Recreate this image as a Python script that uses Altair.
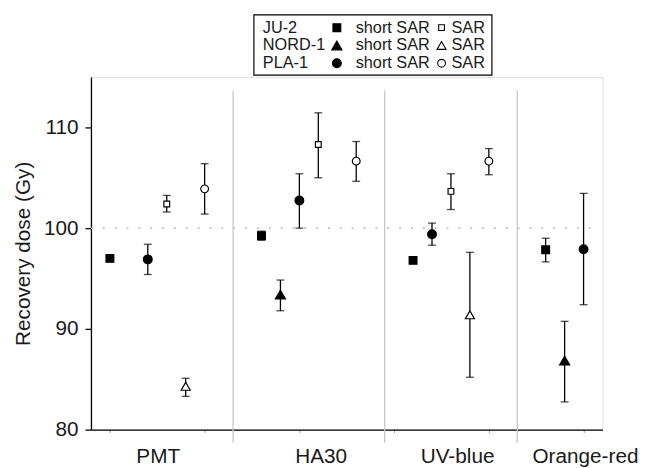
import altair as alt
import pandas as pd

# ---------------- data ----------------
groups = ["PMT", "HA30", "UV-blue", "Orange-red"]
group_label_x = [1.51, 3.23, 4.67, 6.02]
separators_x = [2.3, 3.9, 5.3]

samples = ["JU-2", "NORD-1", "PLA-1"]
protocols = ["short SAR", "SAR"]

pt_sample = ["JU-2", "PLA-1", "JU-2", "NORD-1", "PLA-1",
             "JU-2", "NORD-1", "PLA-1", "JU-2", "PLA-1",
             "JU-2", "PLA-1", "JU-2", "NORD-1", "PLA-1",
             "JU-2", "NORD-1", "PLA-1"]
pt_protocol = ["short SAR", "short SAR", "SAR", "SAR", "SAR",
               "short SAR", "short SAR", "short SAR", "SAR", "SAR",
               "short SAR", "short SAR", "SAR", "SAR", "SAR",
               "short SAR", "short SAR", "short SAR"]
pt_x = [1.0, 1.4, 1.6, 1.8, 2.0,
        2.6, 2.8, 3.0, 3.2, 3.6,
        4.2, 4.4, 4.6, 4.8, 5.0,
        5.6, 5.8, 6.0]
dose = [97.0, 96.9, 102.4, 84.3, 103.9,
        99.25, 93.4, 102.75, 108.3, 106.65,
        96.8, 99.4, 103.65, 91.4, 106.65,
        97.85, 86.85, 97.9]
dose_lo = [96.85, 95.4, 101.6, 83.3, 101.4,
           98.8, 91.8, 100.0, 105.0, 104.65,
           96.65, 98.3, 101.85, 85.2, 105.3,
           96.65, 82.75, 92.4]
dose_hi = [97.15, 98.4, 103.25, 85.1, 106.4,
           99.7, 94.85, 105.4, 111.45, 108.6,
           96.95, 100.5, 105.4, 97.6, 107.9,
           99.0, 90.75, 103.45]

y_ticks = [80, 90, 100, 110]
reference_dose = 100

# ---------------- tables ----------------
df = pd.DataFrame({
    "x": pt_x, "dose": dose, "lo": dose_lo, "hi": dose_hi,
    "sample": pt_sample, "protocol": pt_protocol,
})
df["key"] = df["sample"] + "|" + df["protocol"]

FONT = "Liberation Sans"
W, H = 518, 357
x_scale = alt.Scale(domain=[0.8, 6.2], nice=False, zero=False)
y_scale = alt.Scale(domain=[80, 115], nice=False, zero=False)

shape_scale = alt.Scale(domain=samples, range=["square", "triangle-up", "circle"])
fill_scale = alt.Scale(domain=protocols, range=["black", "white"])
keys = [s + "|" + p for s in samples for p in protocols]
size_scale = alt.Scale(type="ordinal", domain=keys, range=[62, 34, 105, 85, 78, 62])

base = alt.Chart(df)

x_enc = alt.X("x:Q", scale=x_scale,
              axis=alt.Axis(values=[1, 2, 3, 4, 5, 6], labels=False, title=None,
                            tickSize=3, tickColor="#999999", tickWidth=1,
                            domainColor="black", domainWidth=1.3, grid=False))
y_axis = alt.Axis(values=y_ticks, title="Recovery dose (Gy)", grid=False,
                  labelFont=FONT, labelFontSize=21, labelColor="#1a1a1a",
                  labelPadding=7, tickSize=6, tickColor="black", tickWidth=1.3,
                  domainColor="black", domainWidth=1.3,
                  titleFont=FONT, titleFontSize=21, titleFontWeight="normal",
                  titleColor="#1a1a1a", titlePadding=10)

# separators between groups
sep_df = pd.DataFrame({"x": separators_x})
seps = alt.Chart(sep_df).mark_rule(color="#c8c8c8", strokeWidth=1.3).encode(
    x=alt.X("x:Q", scale=x_scale),
    y=alt.datum(113.7, scale=y_scale),
    y2=alt.datum(78.7),
)

# reference dotted line
ref = alt.Chart(pd.DataFrame({"v": [reference_dose]})).mark_rule(
    color="#bbbbbb", strokeWidth=1.5, strokeDash=[2, 10]
).encode(
    y=alt.Y("v:Q", scale=y_scale, axis=y_axis),
    x=alt.datum(0.8, scale=x_scale),
    x2=alt.datum(6.1),
)

err = base.mark_rule(color="black", strokeWidth=1.3).encode(
    x=x_enc,
    y=alt.Y("lo:Q", scale=y_scale, axis=y_axis),
    y2="hi:Q",
)
cap_lo = base.mark_tick(orient="horizontal", size=8, thickness=1.3, color="black").encode(
    x=alt.X("x:Q", scale=x_scale), y=alt.Y("lo:Q", scale=y_scale))
cap_hi = base.mark_tick(orient="horizontal", size=8, thickness=1.3, color="black").encode(
    x=alt.X("x:Q", scale=x_scale), y=alt.Y("hi:Q", scale=y_scale))

pts = base.mark_point(stroke="black", strokeWidth=1.2, opacity=1, filled=False).encode(
    x=alt.X("x:Q", scale=x_scale),
    y=alt.Y("dose:Q", scale=y_scale),
    shape=alt.Shape("sample:N", scale=shape_scale, legend=None),
    fill=alt.Fill("protocol:N", scale=fill_scale, legend=None),
    size=alt.Size("key:N", scale=size_scale, legend=None),
)

# group labels under the axis
lab_df = pd.DataFrame({"x": group_label_x, "label": groups})
labels = alt.Chart(lab_df).mark_text(
    font=FONT, fontSize=21, color="#1a1a1a", align="center", baseline="alphabetic", dy=34
).encode(
    x=alt.X("x:Q", scale=x_scale),
    y=alt.datum(80, scale=y_scale),
    text="label:N",
)

# ---------------- legend (drawn by hand) ----------------
leg_rows = []
for i, s in enumerate(samples):
    leg_rows.append({"sample": s, "ly": -50 + 18 * i})
leg = pd.DataFrame(leg_rows)
leg["key_short"] = leg["sample"] + "|short SAR"
leg["key_sar"] = leg["sample"] + "|SAR"
leg["short"] = "short SAR"
leg["sar"] = "SAR"

box = alt.Chart(pd.DataFrame({"a": [0]})).mark_rect(
    fill="white", stroke="black", strokeWidth=1.2
).encode(x=alt.value(165), x2=alt.value(406), y=alt.value(-63), y2=alt.value(-2))

ly = alt.Y("ly:Q", scale=None)
text_kw = dict(font=FONT, fontSize=16.5, color="#1a1a1a", align="left", baseline="middle")
leg_name = alt.Chart(leg).mark_text(**text_kw).encode(x=alt.value(174), y=ly, text="sample:N")
leg_short = alt.Chart(leg).mark_text(**text_kw).encode(x=alt.value(268), y=ly, text="short:N")
leg_sar = alt.Chart(leg).mark_text(**text_kw).encode(x=alt.value(365), y=ly, text="sar:N")
leg_sym1 = alt.Chart(leg).mark_point(stroke="black", strokeWidth=1.2, opacity=1,
                                     fill="black", filled=False).encode(
    x=alt.value(249), y=ly,
    shape=alt.Shape("sample:N", scale=shape_scale, legend=None),
    size=alt.Size("key_short:N", scale=size_scale, legend=None),
)
leg_sym2 = alt.Chart(leg).mark_point(stroke="black", strokeWidth=1.1, opacity=1,
                                     fill="white", filled=False).encode(
    x=alt.value(355), y=ly,
    shape=alt.Shape("sample:N", scale=shape_scale, legend=None),
    size=alt.Size("key_sar:N", scale=size_scale, legend=None),
)

chart = alt.layer(
    ref, seps, err, cap_lo, cap_hi, pts, labels,
    box, leg_name, leg_sym1, leg_short, leg_sym2, leg_sar,
).properties(
    width=W, height=H,
    autosize=alt.AutoSizeParams(type="none"),
    padding={"left": 84, "top": 67, "right": 42, "bottom": 40},
).configure_view(stroke=None).configure(background="white")

chart.save("out.html", embed_options={"renderer": "svg", "actions": False})
